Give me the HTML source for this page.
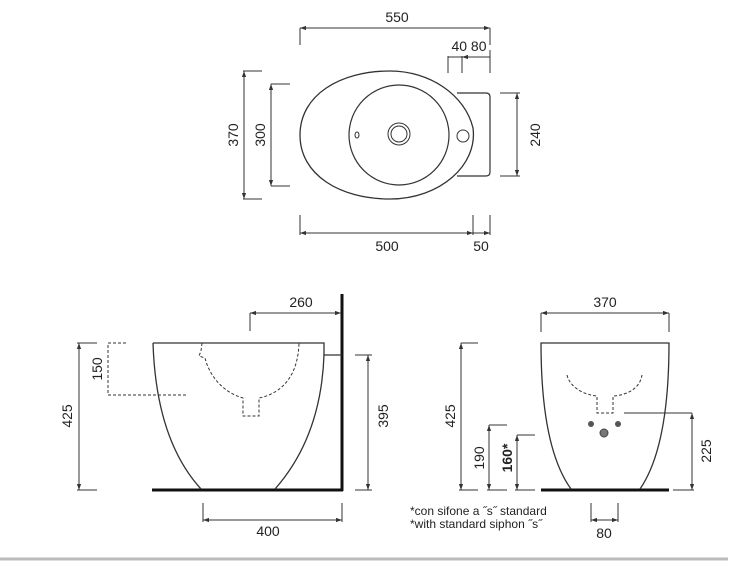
<!DOCTYPE html>
<html><head><meta charset="utf-8"><style>
body{margin:0;background:#fff}
svg{display:block}
text{font-family:"Liberation Sans",sans-serif;font-size:14px;fill:#222}
</style></head><body>
<svg width="750" height="563" viewBox="0 0 750 563" xmlns="http://www.w3.org/2000/svg">
<defs>
<marker id="a" viewBox="0 0 10 10" refX="10" refY="5" markerWidth="6" markerHeight="6" orient="auto-start-reverse"><path d="M0,1.5 L10,5 L0,8.5 z" fill="#333"/></marker>
</defs>
<g stroke="#333" stroke-width="1" fill="none">
<!-- TOP VIEW -->
<line x1="300" y1="28" x2="490" y2="28" marker-start="url(#a)" marker-end="url(#a)"/>
<line x1="300" y1="28" x2="300" y2="45"/><line x1="490" y1="28" x2="490" y2="45"/>
<line x1="448" y1="56" x2="448" y2="73"/><line x1="462" y1="56" x2="462" y2="73"/><line x1="490" y1="50" x2="490" y2="73"/>
<line x1="448" y1="57" x2="462" y2="57"/><line x1="462" y1="57" x2="490" y2="57" marker-start="url(#a)"/>
<path d="M300,135 C300,95 340,71 390,71 C430,71 465,95 473,128 C478,165 440,199 390,199 C340,199 300,175 300,135 Z" stroke-width="1.3"/>
<path d="M457,93 L486,93 Q490,93 490,97 L490,172 Q490,176 486,176 L457,176" stroke-width="1.2"/>
<circle cx="399" cy="135" r="50" stroke-width="1.2"/>
<circle cx="399" cy="134" r="11"/><circle cx="399" cy="134" r="8"/>
<ellipse cx="357" cy="135" rx="2" ry="3"/>
<circle cx="463" cy="136" r="6"/>
<line x1="244" y1="71" x2="244" y2="199" marker-start="url(#a)" marker-end="url(#a)"/>
<line x1="243" y1="71" x2="262" y2="71"/><line x1="243" y1="199" x2="262" y2="199"/>
<line x1="271" y1="84" x2="271" y2="186" marker-start="url(#a)" marker-end="url(#a)"/>
<line x1="271" y1="84" x2="290" y2="84"/><line x1="271" y1="186" x2="290" y2="186"/>
<line x1="517" y1="93" x2="517" y2="176" marker-start="url(#a)" marker-end="url(#a)"/>
<line x1="500" y1="93" x2="520" y2="93"/><line x1="500" y1="176" x2="520" y2="176"/>
<line x1="300" y1="233" x2="473" y2="233" marker-start="url(#a)" marker-end="url(#a)"/>
<line x1="473" y1="233" x2="490" y2="233" marker-end="url(#a)"/>
<line x1="300" y1="215" x2="300" y2="235"/><line x1="473" y1="215" x2="473" y2="235"/><line x1="490" y1="215" x2="490" y2="235"/>
<!-- SIDE VIEW -->
<line x1="342" y1="294" x2="342" y2="491" stroke="#111" stroke-width="3"/>
<line x1="152" y1="490" x2="343" y2="490" stroke="#111" stroke-width="3"/>
<path d="M153,343 L324,343 L324,355 L342,355" stroke-width="1.3"/>
<path d="M153,343 C155,405 170,455 201,489" stroke-width="1.3"/>
<path d="M324,355 C322,410 305,455 275,489" stroke-width="1.3"/>
<line x1="250" y1="313" x2="341" y2="313" marker-start="url(#a)" marker-end="url(#a)"/>
<line x1="250" y1="313" x2="250" y2="331"/>
<line x1="79" y1="343" x2="79" y2="490" marker-start="url(#a)" marker-end="url(#a)"/>
<line x1="77" y1="343" x2="97" y2="343"/><line x1="77" y1="490" x2="97" y2="490"/>
<g stroke-dasharray="3,2">
<line x1="108" y1="343" x2="127" y2="343"/>
<line x1="108" y1="345" x2="108" y2="395"/>
<line x1="108" y1="395" x2="186" y2="395"/>
<path d="M202,343 L201,351 L199,356 L205,358 C210,378 225,393 243,398 L243,416 L259,416 L259,398 C283,393 298,375 299,343"/>
<path d="M567,375 C570,388 585,395 597,396 L597,413 L613,413 L613,396 C628,395 640,388 642,375"/>
</g>
<line x1="368" y1="355" x2="368" y2="490" marker-start="url(#a)" marker-end="url(#a)"/>
<line x1="355" y1="355" x2="372" y2="355"/><line x1="355" y1="490" x2="372" y2="490"/>
<line x1="203" y1="520" x2="342" y2="520" marker-start="url(#a)" marker-end="url(#a)"/>
<line x1="203" y1="503" x2="203" y2="522"/><line x1="342" y1="503" x2="342" y2="522"/>
<!-- FRONT VIEW -->
<line x1="541" y1="313" x2="669" y2="313" marker-start="url(#a)" marker-end="url(#a)"/>
<line x1="541" y1="313" x2="541" y2="332"/><line x1="669" y1="313" x2="669" y2="332"/>
<line x1="541" y1="490" x2="669" y2="490" stroke="#111" stroke-width="3"/>
<path d="M571,489 C550,460 541,410 541,343 L669,343 C669,410 660,460 640,489" stroke-width="1.3"/>
<line x1="461" y1="343" x2="461" y2="490" marker-start="url(#a)" marker-end="url(#a)"/>
<line x1="461" y1="343" x2="478" y2="343"/><line x1="459" y1="490" x2="478" y2="490"/>
<line x1="489" y1="425" x2="489" y2="490" marker-start="url(#a)" marker-end="url(#a)"/>
<line x1="489" y1="425" x2="507" y2="425"/><line x1="487" y1="490" x2="507" y2="490"/>
<line x1="517" y1="435" x2="517" y2="490" marker-start="url(#a)" marker-end="url(#a)"/>
<line x1="517" y1="435" x2="535" y2="435"/><line x1="515" y1="490" x2="535" y2="490"/>
<line x1="692" y1="413" x2="692" y2="490" marker-start="url(#a)" marker-end="url(#a)"/>
<line x1="624" y1="413" x2="692" y2="413"/><line x1="673" y1="490" x2="694" y2="490"/>
<line x1="591" y1="520" x2="618" y2="520" marker-start="url(#a)" marker-end="url(#a)"/>
<line x1="591" y1="503" x2="591" y2="522"/><line x1="618" y1="503" x2="618" y2="522"/>
</g>
<circle cx="591" cy="424" r="3" fill="#555"/><circle cx="618" cy="424" r="3" fill="#555"/>
<circle cx="604" cy="433" r="4" fill="#777" stroke="#444"/>
<line x1="0" y1="559" x2="728" y2="559" stroke="#bbb" stroke-width="3"/>
<g text-anchor="middle">
<text x="397" y="22">550</text>
<text x="469" y="51">40 80</text>
<text x="387" y="251">500</text>
<text x="481" y="251">50</text>
<text transform="translate(238,135) rotate(-90)">370</text>
<text transform="translate(265,135) rotate(-90)">300</text>
<text transform="translate(540,135) rotate(-90)">240</text>
<text x="301" y="307">260</text>
<text transform="translate(72,416) rotate(-90)">425</text>
<text transform="translate(102,369) rotate(-90)">150</text>
<text transform="translate(388,416) rotate(-90)">395</text>
<text x="268" y="536">400</text>
<text x="605" y="307">370</text>
<text transform="translate(455,416) rotate(-90)">425</text>
<text transform="translate(484,458) rotate(-90)">190</text>
<text transform="translate(512,458) rotate(-90)" font-weight="bold">160*</text>
<text transform="translate(711,451) rotate(-90)">225</text>
<text x="604" y="538">80</text>
</g>
<text x="410" y="515" style="font-size:12px">*con sifone a ˝s˝ standard</text>
<text x="410" y="528" style="font-size:12px">*with standard siphon ˝s˝</text>
</svg>
</body></html>
